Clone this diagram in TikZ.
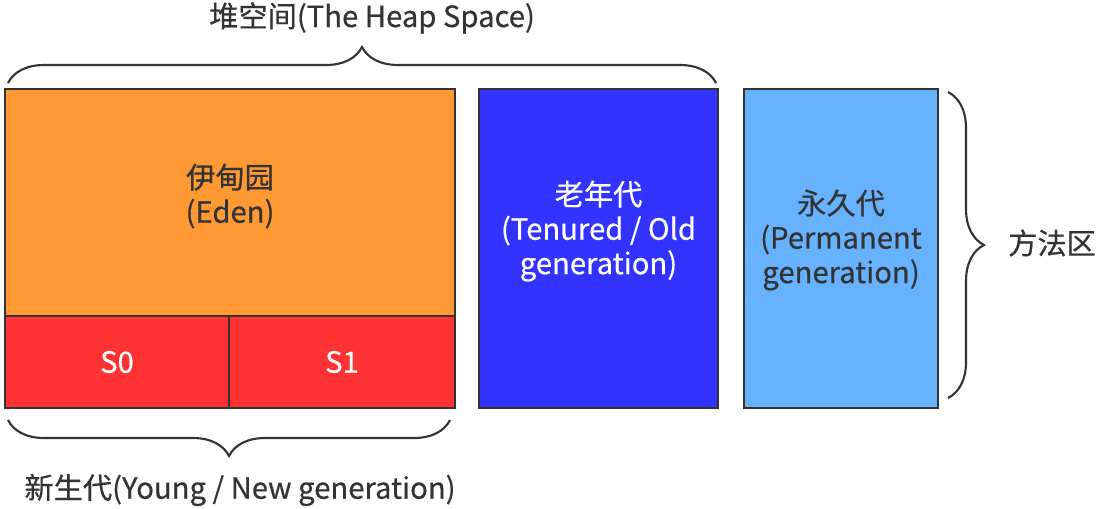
\documentclass[tikz,border=0pt]{standalone}
\usepackage{fontspec}
\setmainfont{Noto Sans CJK SC}[FakeBold=0.5]
\usetikzlibrary{decorations.pathreplacing}

\definecolor{edenorange}{HTML}{FF9933}
\definecolor{survred}{HTML}{FF3333}
\definecolor{oldblue}{HTML}{3333FF}
\definecolor{permblue}{HTML}{66B2FF}
\definecolor{inkgray}{HTML}{333333}

\begin{document}
\begin{tikzpicture}[x=0.025cm, y=-0.025cm, region/.style={rectangle, draw=inkgray, line width=2pt, inner sep=0pt}, boxtext/.style={align=center, inner sep=0pt, font=\fontsize{20.8}{24.5}\selectfont}, bracelabel/.style={font=\fontsize{20.8}{24.5}\selectfont, text=inkgray}, curly/.style={draw=inkgray, line width=1.5pt, decorate, decoration={brace, amplitude=0.9cm}}]

  \useasboundingbox (0,0) rectangle (1096,508);

  % memory regions
  \node[region, fill=edenorange, minimum width=11.25cm, minimum height=5.675cm] (eden) at (230,202.5) {};
  \node[region, fill=survred, minimum width=5.6cm, minimum height=2.3cm] (szero) at (117,362) {};
  \node[region, fill=survred, minimum width=5.65cm, minimum height=2.3cm] (sone) at (342,362) {};
  \node[region, fill=oldblue, minimum width=5.975cm, minimum height=7.975cm] (oldgen) at (598.5,248.5) {};
  \node[region, fill=permblue, minimum width=4.85cm, minimum height=7.975cm] (permgen) at (841,248.5) {};

  \node[boxtext, text=inkgray] (edentext) at (230,196) {伊甸园\\(Eden)};
  \node[boxtext, text=white] (szerotext) at (117,362) {S0};
  \node[boxtext, text=white] (sonetext) at (342,362) {S1};
  \node[boxtext, text=white] (oldtext) at (598.5,231) {老年代\\(Tenured / Old\\generation)};
  \node[boxtext, text=inkgray] (permtext) at (841,240) {永久代\\(Permanent\\generation)};

  % braces
  \coordinate (heapleft) at (8,83);
  \coordinate (heapright) at (716,83);
  \coordinate (youngleft) at (8,420);
  \coordinate (youngright) at (450,420);
  \coordinate (methodtop) at (948,92);
  \coordinate (methodbottom) at (948,398);

  \draw[curly] (heapleft) -- (heapright);
  \draw[curly] (youngright) -- (youngleft);
  \draw[curly] (methodtop) -- (methodbottom);

  \node[bracelabel] (heaplabel) at (372,18) {堆空间(The Heap Space)};
  \node[bracelabel] (younglabel) at (240,490) {新生代(Young / New generation)};
  \node[bracelabel] (methodlabel) at (1052,243) {方法区};
\end{tikzpicture}
\end{document}
